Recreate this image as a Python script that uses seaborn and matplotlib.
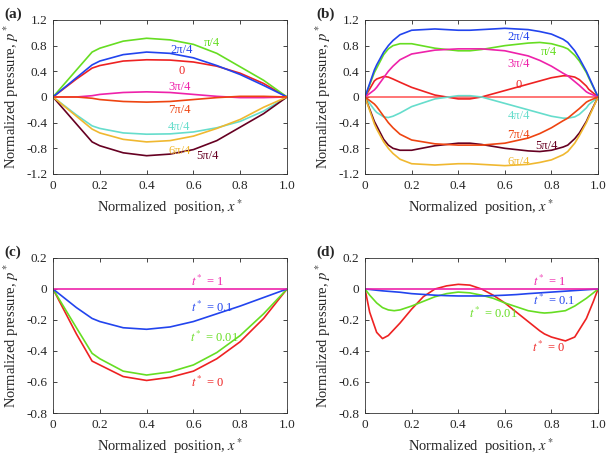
import numpy as np
import pandas as pd
import matplotlib
matplotlib.use("Agg")
import matplotlib.pyplot as plt
import seaborn as sns

# ---- data ----
# panel (a)
xa = [0, 0.1, 0.167, 0.2, 0.3, 0.4, 0.5, 0.6, 0.7, 0.8, 0.9, 1.0]
a_0 = [0, 0.28, 0.45, 0.49, 0.56, 0.58, 0.575, 0.545, 0.48, 0.37, 0.21, 0]
a_1 = [0, 0.42, 0.70, 0.76, 0.87, 0.915, 0.89, 0.82, 0.68, 0.47, 0.26, 0]
a_2 = [0, 0.30, 0.50, 0.56, 0.66, 0.70, 0.68, 0.61, 0.49, 0.35, 0.18, 0]
a_3 = [0, 0.0, 0.02, 0.04, 0.07, 0.08, 0.07, 0.04, 0.01, -0.01, -0.01, 0]
a_4 = [0, -0.28, -0.45, -0.49, -0.56, -0.58, -0.575, -0.545, -0.48, -0.38, -0.22, 0]
a_5 = [0, -0.42, -0.70, -0.76, -0.87, -0.915, -0.89, -0.82, -0.68, -0.47, -0.26, 0]
a_6 = [0, -0.30, -0.50, -0.56, -0.66, -0.70, -0.68, -0.61, -0.49, -0.35, -0.16, 0]
a_7 = [0, 0.0, -0.02, -0.04, -0.07, -0.08, -0.07, -0.04, -0.01, 0.01, 0.01, 0]

# panel (b)
xb = [0, 0.04, 0.05, 0.08, 0.1, 0.12, 0.15, 0.2, 0.3, 0.4, 0.45, 0.5, 0.6, 0.7,
      0.75, 0.8, 0.85, 0.87, 0.9, 0.92, 0.95, 0.96, 1.0]
b_0 = [0, 0.25, 0.28, 0.32, 0.31, 0.28, 0.23, 0.15, 0.03, -0.03, -0.03, 0.0, 0.10,
       0.20, 0.25, 0.30, 0.33, 0.33, 0.31, 0.27, 0.17, 0.12, 0]
b_1 = [0, 0.38, 0.45, 0.66, 0.75, 0.80, 0.83, 0.83, 0.76, 0.72, 0.72, 0.74, 0.80,
       0.84, 0.85, 0.83, 0.78, 0.75, 0.65, 0.56, 0.38, 0.30, 0]
b_2 = [0, 0.42, 0.50, 0.70, 0.80, 0.88, 0.97, 1.04, 1.06, 1.04, 1.04, 1.05, 1.07,
       1.05, 1.02, 0.98, 0.90, 0.85, 0.72, 0.60, 0.40, 0.32, 0]
b_3 = [0, 0.11, 0.15, 0.30, 0.40, 0.48, 0.58, 0.67, 0.73, 0.75, 0.75, 0.75, 0.72,
       0.64, 0.57, 0.48, 0.37, 0.33, 0.24, 0.18, 0.08, 0.06, 0]
b_4 = [0, -0.20, -0.24, -0.31, -0.32, -0.30, -0.25, -0.15, -0.03, 0.02, 0.02, 0.0,
       -0.10, -0.20, -0.25, -0.30, -0.33, -0.33, -0.31, -0.27, -0.17, -0.12, 0]
b_5 = [0, -0.38, -0.45, -0.66, -0.75, -0.80, -0.83, -0.83, -0.76, -0.72, -0.72,
       -0.74, -0.80, -0.84, -0.85, -0.83, -0.78, -0.75, -0.65, -0.56, -0.38, -0.30, 0]
b_6 = [0, -0.42, -0.50, -0.70, -0.80, -0.88, -0.97, -1.04, -1.06, -1.04, -1.04,
       -1.05, -1.07, -1.05, -1.02, -0.98, -0.90, -0.85, -0.72, -0.60, -0.40, -0.32, 0]
b_7 = [0, -0.11, -0.15, -0.30, -0.40, -0.48, -0.58, -0.67, -0.73, -0.75, -0.75,
       -0.75, -0.72, -0.64, -0.57, -0.48, -0.37, -0.33, -0.24, -0.18, -0.08, -0.06, 0]

# panel (c)
xc = [0, 0.1, 0.167, 0.2, 0.3, 0.4, 0.5, 0.6, 0.7, 0.8, 0.9, 1.0]
c_t0 = [0, -0.29, -0.465, -0.49, -0.565, -0.59, -0.57, -0.53, -0.45, -0.34, -0.19, 0]
c_t001 = [0, -0.25, -0.415, -0.45, -0.53, -0.555, -0.535, -0.49, -0.41, -0.30, -0.16, 0]
c_t01 = [0, -0.12, -0.19, -0.21, -0.25, -0.26, -0.245, -0.21, -0.16, -0.11, -0.055, 0]
c_t1 = [0] * len(xc)

# panel (d)
xd = [0, 0.02, 0.05, 0.075, 0.1, 0.125, 0.15, 0.2, 0.25, 0.3, 0.35, 0.4, 0.45, 0.5,
      0.55, 0.6, 0.65, 0.7, 0.75, 0.77, 0.8, 0.86, 0.9, 0.95, 0.98, 1.0]
d_t0 = [0, -0.15, -0.28, -0.32, -0.30, -0.26, -0.22, -0.13, -0.05, 0.0, 0.02, 0.03,
        0.025, 0.0, -0.04, -0.09, -0.15, -0.21, -0.27, -0.29, -0.31, -0.335, -0.31,
        -0.19, -0.08, 0]
d_t001 = [0, -0.04, -0.09, -0.12, -0.135, -0.14, -0.135, -0.11, -0.08, -0.05, -0.03,
          -0.02, -0.025, -0.04, -0.06, -0.09, -0.115, -0.14, -0.152, -0.155, -0.152,
          -0.14, -0.11, -0.06, -0.025, 0]
d_t01 = [0, -0.003, -0.008, -0.012, -0.015, -0.018, -0.021, -0.03, -0.035, -0.04,
         -0.043, -0.045, -0.045, -0.045, -0.043, -0.04, -0.036, -0.03, -0.025,
         -0.023, -0.02, -0.014, -0.01, -0.005, -0.002, 0]
d_t1 = [0] * len(xd)

phase_labels = ["0", "π/4", "2π/4", "3π/4", "4π/4", "5π/4", "6π/4", "7π/4"]
phase_colors = ["#ee2222", "#66dd22", "#2244ee", "#ee22aa",
                "#66ddcc", "#660022", "#f0b830", "#ee4411"]
time_labels = ["t0", "t001", "t01", "t1"]
time_colors = ["#ee2222", "#66dd22", "#2244ee", "#ee22aa"]

# label positions (x, y) in data coords
a_text = {"0": (0.55, 0.41), "π/4": (0.68, 0.84), "2π/4": (0.55, 0.73),
          "3π/4": (0.54, 0.15), "4π/4": (0.54, -0.46), "5π/4": (0.66, -0.92),
          "6π/4": (0.54, -0.84), "7π/4": (0.54, -0.20)}
b_text = {"0": (0.66, 0.19), "π/4": (0.79, 0.70), "2π/4": (0.66, 0.93),
          "3π/4": (0.66, 0.51), "4π/4": (0.66, -0.29), "5π/4": (0.78, -0.76),
          "6π/4": (0.66, -1.02), "7π/4": (0.66, -0.59)}
c_text = {"t0": (0.66, -0.60, "$t^*$ = 0"), "t001": (0.69, -0.31, "$t^*$ = 0.01"),
          "t01": (0.68, -0.12, "$t^*$ = 0.1"), "t1": (0.66, 0.05, "$t^*$ = 1")}
d_text = {"t0": (0.79, -0.38, "$t^*$ = 0"), "t001": (0.55, -0.16, "$t^*$ = 0.01"),
          "t01": (0.81, -0.075, "$t^*$ = 0.1"), "t1": (0.79, 0.05, "$t^*$ = 1")}


def long_df(x, series, names):
    rows = []
    for name, ys in zip(names, series):
        for xi, yi in zip(x, ys):
            rows.append((name, xi, yi))
    return pd.DataFrame(rows, columns=["curve", "x", "p"])


df_a = long_df(xa, [a_0, a_1, a_2, a_3, a_4, a_5, a_6, a_7], phase_labels)
df_b = long_df(xb, [b_0, b_1, b_2, b_3, b_4, b_5, b_6, b_7], phase_labels)
df_c = long_df(xc, [c_t0, c_t001, c_t01, c_t1], time_labels)
df_d = long_df(xd, [d_t0, d_t001, d_t01, d_t1], time_labels)

sns.set_style("ticks")
plt.rcParams["font.family"] = ["Liberation Serif", "DejaVu Serif"]
plt.rcParams["mathtext.fontset"] = "stix"

fig = plt.figure(figsize=(6.1, 4.55), dpi=100)
# axes boxes in figure fractions (left, bottom, width, height)
pos = {"a": [0.0869, 0.6176, 0.3836, 0.3385], "b": [0.5984, 0.6176, 0.382, 0.3385],
       "c": [0.0869, 0.0923, 0.3836, 0.3407], "d": [0.5984, 0.0923, 0.382, 0.3407]}


def style_axes(ax, yticks, ylim):
    ax.set_xlim(0, 1)
    ax.set_ylim(*ylim)
    ax.set_xticks([0, 0.2, 0.4, 0.6, 0.8, 1.0])
    ax.set_xticklabels(["0", "0.2", "0.4", "0.6", "0.8", "1.0"])
    ax.set_yticks(yticks)
    ax.set_yticklabels(["0" if abs(v) < 1e-9 else f"{v:.1f}" for v in yticks])
    ax.tick_params(direction="in", top=True, right=True, length=3, width=0.6,
                   labelsize=9.5, pad=4)
    for s in ax.spines.values():
        s.set_linewidth(0.6)
        s.set_color("#333333")
    ax.set_xlabel("Normalized  position, $x^*$", fontsize=10.5, labelpad=4)
    ax.set_ylabel("Normalized pressure, $p^*$", fontsize=10.5, labelpad=4)


panels = [("a", df_a, phase_labels, phase_colors, a_text),
          ("b", df_b, phase_labels, phase_colors, b_text),
          ("c", df_c, time_labels, time_colors, c_text),
          ("d", df_d, time_labels, time_colors, d_text)]

for key, df, names, colors, texts in panels:
    ax = fig.add_axes(pos[key])
    if key == "b":
        ax.axhline(0, color="#ff5050", lw=1.1, zorder=1)
    sns.lineplot(data=df, x="x", y="p", hue="curve", hue_order=names,
                 palette=colors, estimator=None, sort=False, lw=1.2, ax=ax,
                 legend=False)
    if key in ("a", "b"):
        style_axes(ax, [1.2, 0.8, 0.4, 0, -0.4, -0.8, -1.2], (-1.2, 1.2))
        for name, col in zip(names, colors):
            tx, ty = texts[name]
            ax.text(tx, ty, name, color=col, fontsize=9, ha="center", va="center")
    else:
        style_axes(ax, [0.2, 0, -0.2, -0.4, -0.6, -0.8], (-0.8, 0.2))
        for name, col in zip(names, colors):
            tx, ty, lab = texts[name]
            ax.text(tx, ty, lab, color=col, fontsize=9, ha="center", va="center")
    fig.text(pos[key][0] - 0.079, pos[key][1] + pos[key][3] + 0.012, f"({key})",
             fontsize=11, fontweight="bold", ha="left", va="center")

fig.savefig("out.png", dpi=100)
